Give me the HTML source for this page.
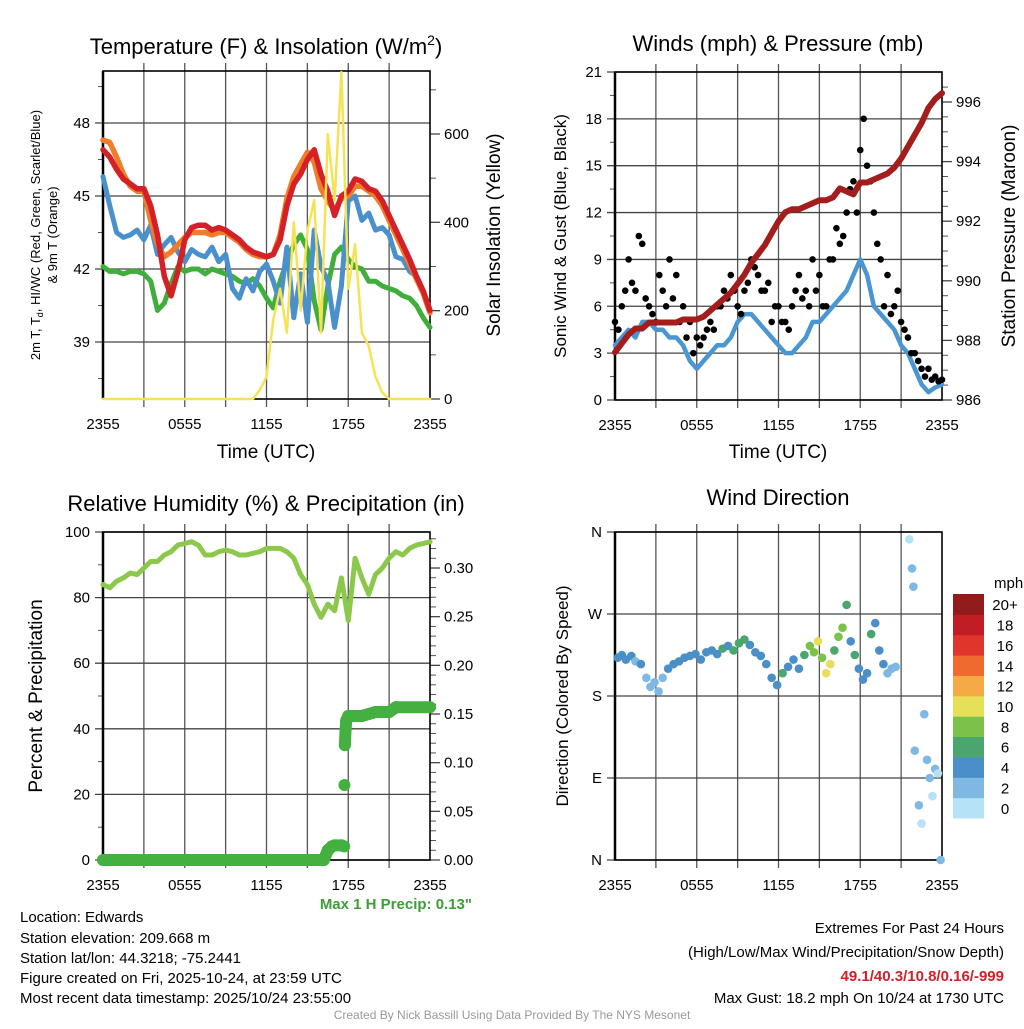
<!DOCTYPE html>
<html><head><meta charset="utf-8"><style>
body{margin:0;background:#fff}
svg{font-family:"Liberation Sans",sans-serif}
</style></head><body>
<svg id="c" width="1024" height="1024" viewBox="0 0 1024 1024" xmlns="http://www.w3.org/2000/svg">
<rect width="1024" height="1024" fill="#fff"/>
<g id="g"></g>
<text x="266" y="54" font-size="22" text-anchor="middle">Temperature (F) &amp; Insolation (W/m<tspan font-size="14" dy="-9">2</tspan><tspan dy="9">)</tspan></text>
<text x="778" y="51" font-size="22" text-anchor="middle">Winds (mph) &amp; Pressure (mb)</text>
<text x="266" y="511" font-size="22" text-anchor="middle">Relative Humidity (%) &amp; Precipitation (in)</text>
<text x="778" y="505" font-size="22" text-anchor="middle">Wind Direction</text>
<text x="266" y="458" font-size="19" text-anchor="middle">Time (UTC)</text>
<text x="778" y="458" font-size="19" text-anchor="middle">Time (UTC)</text>
<text transform="translate(40,235) rotate(-90)" font-size="13" text-anchor="middle">2m T, T<tspan font-size="9" dy="3">d</tspan><tspan dy="-3">, HI/WC (Red, Green, Scarlet/Blue)</tspan></text>
<text transform="translate(57,235) rotate(-90)" font-size="13" text-anchor="middle">&amp; 9m T (Orange)</text>
<text transform="translate(500,235) rotate(-90)" font-size="19" text-anchor="middle">Solar Insolation (Yellow)</text>
<text transform="translate(566,236) rotate(-90)" font-size="17" text-anchor="middle">Sonic Wind &amp; Gust (Blue, Black)</text>
<text transform="translate(1015,236) rotate(-90)" font-size="19" text-anchor="middle">Station Pressure (Maroon)</text>
<text transform="translate(42,696) rotate(-90)" font-size="19" text-anchor="middle">Percent &amp; Precipitation</text>
<text transform="translate(568,696) rotate(-90)" font-size="17" text-anchor="middle">Direction (Colored By Speed)</text>
<text x="994" y="588" font-size="15" text-anchor="start">mph</text>
<text x="472" y="909" font-size="15" font-weight="bold" fill="#3a9f35" text-anchor="end">Max 1 H Precip: 0.13"</text>
<g font-size="15">
<text x="20" y="922">Location: Edwards</text>
<text x="20" y="943">Station elevation: 209.668 m</text>
<text x="20" y="963">Station lat/lon: 44.3218; -75.2441</text>
<text x="20" y="983">Figure created on Fri, 2025-10-24, at 23:59 UTC</text>
<text x="20" y="1003">Most recent data timestamp: 2025/10/24 23:55:00</text>
</g>
<g font-size="15" text-anchor="end">
<text x="1004" y="933">Extremes For Past 24 Hours</text>
<text x="1004" y="957">(High/Low/Max Wind/Precipitation/Snow Depth)</text>
<text x="1004" y="981" font-weight="bold" fill="#d0202a">49.1/40.3/10.8/0.16/-999</text>
<text x="1004" y="1003">Max Gust: 18.2 mph On 10/24 at 1730 UTC</text>
</g>
<text x="512" y="1019" font-size="12" fill="#999" text-anchor="middle">Created By Nick Bassill Using Data Provided By The NYS Mesonet</text>
</svg>
<script>
// ---- data (half-hourly, 2355 -> 2355) ----
const xTickLabels=["2355","0555","1155","1755","2355"];
const tempRed=[46.9,46.6,46.1,45.7,45.5,45.3,45.3,44.6,43.4,41.7,40.9,41.9,43.2,43.7,43.8,43.8,43.6,43.7,43.6,43.4,43.2,42.9,42.7,42.6,42.5,42.6,43.2,44.6,45.5,45.9,46.5,46.9,45.9,45.2,44.2,45.0,45.2,45.7,45.6,45.3,45.2,44.8,44.2,43.6,43.0,42.4,41.7,41.1,40.3];
const tempOrange=[47.3,47.2,46.6,45.9,45.4,45.2,45.2,44.0,43.0,42.5,42.7,43.0,43.3,43.5,43.5,43.5,43.4,43.5,43.5,43.3,43.1,42.8,42.6,42.5,42.5,42.6,43.4,44.9,45.8,46.3,46.8,46.4,45.3,44.8,44.4,44.9,45.0,45.4,45.4,45.2,45.0,44.6,44.0,43.4,42.8,42.2,41.6,41.0,40.2];
const tempBlue=[45.8,44.6,43.5,43.3,43.4,43.6,43.2,43.8,42.6,43.0,43.3,42.7,42.3,42.8,42.6,42.5,42.9,42.3,42.6,41.2,40.8,41.6,41.1,41.9,42.2,41.5,40.6,42.9,40.0,41.8,39.8,43.6,42.1,41.5,39.6,41.3,44.8,45.0,44.0,44.3,43.6,43.7,43.4,42.5,42.4,41.9,41.7,41.0,40.3];
const tempGreen=[42.1,41.9,41.9,41.8,41.9,41.9,41.8,41.5,40.3,40.6,41.4,42.1,41.9,42.0,42.0,41.8,42.0,41.9,41.8,41.7,41.5,41.4,41.6,41.3,40.8,40.4,41.5,42.3,43.0,43.4,42.8,40.7,39.5,41.3,42.6,42.9,42.4,42.1,42.0,41.5,41.5,41.3,41.2,41.1,40.9,40.8,40.5,40.0,39.6];
const solar=[0,0,0,0,0,0,0,0,0,0,0,0,0,0,0,0,0,0,0,0,0,0,0,20,50,180,250,150,400,200,380,450,150,600,450,740,250,350,150,120,50,15,0,0,0,0,0,0,0];
const wind=[3.5,4,4.5,4,5,5,4.5,4.5,4,4,3.5,2.5,2,2.5,3,3.5,3.5,4,5,5.5,5.5,5,4.5,4,3.5,3,3,3.5,4,5,5,5.5,6,6.5,7,8,9,8,6,5.5,5,4.5,3.5,3,2,1,0.5,0.8,1.0];
const gust=[5,6,9,7,10,6,5,7,9,8,6,5,4,4,5,6,7,8,6,7,9,8,7,5,6,5,6,8,7,9,8,6,9,10,12,14,16,15,12,9,8,6,5,4,3,2,2,1.5,1.3];
const gust2=[4.5,7,7.5,10.5,6.5,5.5,8,6,6.5,5,4,3,3.5,4.5,4.5,6,6.5,7,5.5,7.5,8.5,7,7.5,6,5,4.5,7,6.5,6,7,6,9,11,10.5,13.5,12,18,14,10,6,5.5,7,4.5,3,2.5,1.5,1.3,1.2];
const pressure=[987.6,987.9,988.2,988.4,988.4,988.6,988.6,988.6,988.6,988.6,988.7,988.7,988.7,988.8,989.0,989.2,989.4,989.6,989.9,990.2,990.6,990.9,991.2,991.6,992.0,992.3,992.4,992.4,992.5,992.6,992.7,992.7,992.8,993.1,993.0,992.9,993.3,993.3,993.4,993.5,993.6,993.8,994.1,994.5,994.9,995.3,995.8,996.1,996.3];
const rh=[84,83,85,86,87.5,87,89,91,91,93,94,96,96.5,97,96,93,93,94,94.5,94,93,93,93.5,94,95,95,95,94,92,87,84,78,74,78,76,86,73,92,86,81,87,89,92,94,93,95,96,96.5,97];
const precipT=[0,16.2,16.5,16.8,17.0,17.5,17.7,17.72,17.75,17.8,17.85,18.0,19.0,19.5,20.0,21.0,21.5,24];
const precipV=[0,0,0.01,0.014,0.015,0.015,0.014,0.077,0.118,0.133,0.143,0.148,0.148,0.150,0.152,0.152,0.157,0.157];
const dirT=[0.2,0.5,0.8,1.2,1.5,1.9,2.3,2.6,2.9,3.2,3.5,3.9,4.3,4.7,5.1,5.5,5.9,6.3,6.7,7.1,7.5,7.9,8.3,8.7,9.1,9.5,9.9,10.3,10.7,11.1,11.5,11.9,12.3,12.7,13.1,13.5,13.9,14.3,14.6,14.9,15.2,15.5,15.8,16.1,16.4,16.7,17.0,17.3,17.6,17.9,18.2,18.5,18.8,19.1,19.4,19.7,20.0,20.3,20.6,21.6,21.8,21.9,22.0,22.3,22.5,22.7,22.9,23.1,23.3,23.5,23.7,23.9];
const dirD=[222,225,220,224,218,215,200,190,195,185,200,210,215,218,222,224,226,220,228,230,226,232,235,230,238,242,236,228,224,215,200,192,205,212,220,210,225,235,228,240,222,205,215,230,245,255,280,240,225,210,198,205,248,260,230,215,205,210,212,352,320,300,120,60,40,160,110,90,70,100,95,0];
const dirS=[4,4,3,4,2,3,1,1,2,1,2,3,4,3,4,3,4,3,4,3,4,5,4,5,6,5,4,3,4,4,3,4,5,3,4,4,6,7,8,9,7,10,9,6,7,8,6,4,5,3,4,3,5,4,3,4,2,2,1,0,1,1,1,1,0,1,1,1,0,1,0,1];
const cbLabels=["0","2","4","6","8","10","12","14","16","18","20+"];
const cbColors=["#b5e2f7","#7fb9e3","#4a8fc7","#4aa56e","#7cc24a","#e6df58","#f6aa45","#ef6a2e","#e0352c","#c11d24","#921b1c"];

const NS="http://www.w3.org/2000/svg",G=document.getElementById('g');
function mk(tag,at,parent){const e=document.createElementNS(NS,tag);for(const k in at)e.setAttribute(k,at[k]);(parent||G).appendChild(e);return e;}
function txt(x,y,s,anchor,size){const e=mk('text',{x:x,y:y,'font-size':size||15,'text-anchor':anchor});e.textContent=s;return e;}

const P1={L:103,R:430,T:71,B:399},P2={L:615,R:942,T:72,B:400},P3={L:103,R:430,T:532,B:860},P4={L:615,R:942,T:532,B:860};
const xOf=(P,t)=>P.L+t/24*(P.R-P.L);
const tY=v=>342-(v-39)*24.33, sY=v=>399-v*0.4417;
const wY=v=>400-v*15.62, pY=v=>400-(v-986)*29.8;
const rY=v=>860-v*3.28, prY=v=>860-v*973.3;
const dY=v=>860-v/360*328;

function frame(P,name,hticks,yfun,labels,rticks,ryfun,rlabels,minorL,minorR){
  const g=mk('g',{});
  
  
  for(let i=1;i<8;i++){const x=P.L+i*(P.R-P.L)/8;mk('line',{x1:x,y1:P.T-8,x2:x,y2:P.B+8,stroke:'#555','stroke-width':1.3},g);}
  hticks.forEach((v,i)=>{const y=yfun(v);mk('line',{x1:P.L-8,y1:y,x2:P.R,y2:y,stroke:'#444','stroke-width':1.3},g);
    const t=txt(P.L-13,y+5,labels[i],'end');});
  (minorL||[]).forEach(v=>{const y=yfun(v);mk('line',{x1:P.L-5,y1:y,x2:P.L,y2:y,stroke:'#555'},g);});
  (rticks||[]).forEach((v,i)=>{const y=ryfun(v);mk('line',{x1:P.R,y1:y,x2:P.R+10,y2:y,stroke:'#444','stroke-width':1.3},g);
    const t=txt(P.R+14,y+5,rlabels[i],'start');});
  (minorR||[]).forEach(v=>{const y=ryfun(v);mk('line',{x1:P.R,y1:y,x2:P.R+6,y2:y,stroke:'#555'},g);});
  mk('rect',{x:P.L,y:P.T,width:P.R-P.L,height:P.B-P.T,fill:'none',stroke:'#000','stroke-width':1.6},g);
  mk('line',{x1:P.L,y1:P.T,x2:P.L,y2:P.B,stroke:'#000','stroke-width':2.5},g);
  xTickLabels.forEach((s,i)=>{const x=P.L+i*(P.R-P.L)/4;const t=txt(x,P.B+30,s,'middle');});
}
frame(P1,'temperature-axes',[39,42,45,48],tY,['39','42','45','48'],[0,200,400,600],sY,['0','200','400','600'],[37.5,40.5,43.5,46.5,49.5],[100,300,500,700]);
frame(P2,'wind-axes',[0,3,6,9,12,15,18,21],wY,['0','3','6','9','12','15','18','21'],[986,988,990,992,994,996],pY,['986','988','990','992','994','996'],[1.5,4.5,7.5,10.5,13.5,16.5,19.5],[986.5,987,987.5,988.5,989,989.5,990.5,991,991.5,992.5,993,993.5,994.5,995,995.5,996.5]);
frame(P3,'humidity-axes',[0,20,40,60,80,100],rY,['0','20','40','60','80','100'],[0,0.05,0.1,0.15,0.2,0.25,0.3],prY,['0.00','0.05','0.10','0.15','0.20','0.25','0.30'],[10,30,50,70,90],[0.01,0.02,0.03,0.04,0.06,0.07,0.08,0.09,0.11,0.12,0.13,0.14,0.16,0.17,0.18,0.19,0.21,0.22,0.23,0.24,0.26,0.27,0.28,0.29,0.31,0.32,0.33]);
frame(P4,'direction-axes',[0,90,180,270,360],dY,['N','E','S','W','N'],[],null,[]);

function line(P,arr,yf,color,w,name){
  const pts=arr.map((v,i)=>xOf(P,i*0.5).toFixed(1)+','+yf(v).toFixed(1)).join(' ');
  const e=mk('polyline',{points:pts,fill:'none',stroke:color,'stroke-width':w,'stroke-linejoin':'round','stroke-linecap':'round'});
  
  
}
line(P1,tempGreen,tY,'#3fae3a',5,'dewpoint-line');
line(P1,tempBlue,tY,'#4a90cc',5,'windchill-line');
line(P1,tempOrange,tY,'#f07d2a',5.5,'temp-9m-line');
line(P1,tempRed,tY,'#d42027',5.5,'temp-2m-line');
line(P1,solar,sY,'#f5e255',2.5,'solar-insolation-line');

line(P2,wind,wY,'#4a96d2',4.5,'sonic-wind-line');
gust.forEach((v,i)=>{const c=mk('circle',{cx:xOf(P2,i*0.5),cy:wY(v),r:3.3,fill:'#000'});
  
  });
gust2.forEach((v,i)=>{const c=mk('circle',{cx:xOf(P2,i*0.5+0.25),cy:wY(v),r:3.3,fill:'#000'});
  
  });
line(P2,pressure,pY,'#a31d1d',6,'pressure-line');

line(P3,rh,rY,'#8cc84b',5,'humidity-line');
for(let i=1;i<precipT.length;i++){
  if(Math.abs(precipV[i]-precipV[i-1])<0.02){const l=mk('line',{x1:xOf(P3,precipT[i-1]),y1:prY(precipV[i-1]),x2:xOf(P3,precipT[i]),y2:prY(precipV[i]),stroke:'#43b040','stroke-width':12,'stroke-linecap':'round'});
    
    }
}
precipT.forEach((t,i)=>{const c=mk('circle',{cx:xOf(P3,t),cy:prY(precipV[i]),r:6,fill:'#43b040'});
  
  });

const n=Math.min(dirT.length,dirD.length,dirS.length);
for(let i=0;i<n;i++){
  const bin=Math.min(10,Math.round(dirS[i]/2));
  const c=mk('circle',{cx:xOf(P4,dirT[i]),cy:dY(dirD[i]),r:4.3,fill:cbColors[bin]});
  
  
}
const cbTop=594,cbH=224/11;
cbLabels.forEach((s,i)=>{const y=cbTop+(10-i)*cbH;
  const r=mk('rect',{x:953,y:y,width:31,height:cbH+0.5,fill:cbColors[i]});
  
  
  const t=txt(1005,y+cbH/2+6,s,'middle');
  
  });
</script>
</body></html>
